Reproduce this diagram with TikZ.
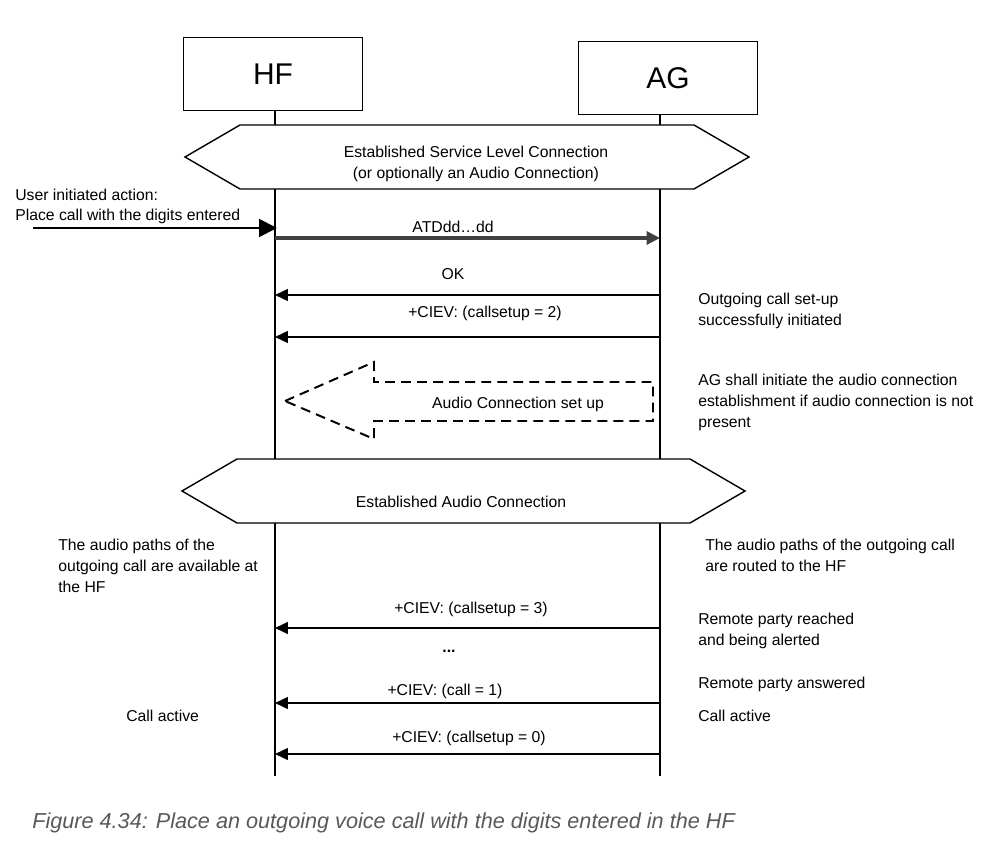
\documentclass[tikz,border=0pt]{standalone}
\usepackage{fontspec}
\setmainfont{Liberation Sans}
\usepackage{xcolor}
\usetikzlibrary{arrows.meta,positioning}

\definecolor{atdgray}{HTML}{404040}
\definecolor{capgray}{HTML}{595959}

\newcommand{\lblfont}{\fontsize{11.2}{14.9}\selectfont}

\tikzset{
    entity/.style={draw, line width=0.7pt, minimum width=4.45cm, minimum height=1.8cm,
        font=\fontsize{21.3}{25}\selectfont},
    lifeline/.style={line width=1.4pt},
    hexa/.style={draw, fill=white, line width=1pt, line join=miter},
    msg/.style={line width=1.4pt, -{Triangle[length=9.2pt, width=8.4pt]}},
    msglabel/.style={font=\lblfont, inner sep=0pt, anchor=base},
    note/.style={font=\lblfont, inner sep=0pt, anchor=base west, align=left},
    dashbox/.style={line width=1.4pt, dash pattern=on 7pt off 4.4pt, line join=miter}
}

\begin{document}
\begin{tikzpicture}[x=0.025cm, y=-0.025cm]
    \useasboundingbox (0,0) rectangle (991,852);

    % Entities and lifelines
    \node[entity] (hf) at (273,74) {HF};
    \node[entity] (ag) at (668,78) {AG};

    \coordinate (hf-top) at (275,110);
    \coordinate (hf-bot) at (275,776);
    \coordinate (ag-top) at (660,114);
    \coordinate (ag-bot) at (660,776);
    \draw[lifeline] (hf-top) -- (hf-bot);
    \draw[lifeline] (ag-top) -- (ag-bot);

    % ============================================================
    % Service level connection
    % ============================================================
    \draw[hexa] (185,157) -- (240,125) -- (694,125) -- (749,157) -- (694,189) -- (240,189) -- cycle;
    \node[msglabel] (slc1) at (476,158) {Established Service Level Connection};
    \node[msglabel] (slc2) at (476,179) {(or optionally an Audio Connection)};

    % User action (base = last line)
    \node[note] (user) at (15,221) {User initiated action:\\Place call with the digits entered};
    \coordinate (user-start) at (33,228);
    \coordinate (user-end) at (277,228);
    \draw[line width=1.4pt, -{Triangle[length=12.8pt, width=12.8pt]}] (user-start) -- (user-end);

    % ATD command
    \coordinate (atd-hf) at (275,238);
    \coordinate (atd-ag) at (660,238);
    \draw[atdgray, line width=2.3pt, -{Triangle[length=9.6pt, width=9.3pt]}] (atd-hf) -- (atd-ag);
    \node[msglabel] (atd) at (453,233) {ATDdd…dd};

    % Responses from AG
    \foreach \name/\y/\lx/\ly/\lab in {ok/295/453/280/OK,
            cs2/337/485/318/{+CIEV: (callsetup = 2)}} {
        \coordinate (\name-ag) at (660,\y);
        \coordinate (\name-hf) at (275,\y);
        \draw[msg] (\name-ag) -- (\name-hf);
        \node[msglabel] (\name-lab) at (\lx,\ly) {\lab};
    }

    \node[note] (setup) at (698,325) {Outgoing call set-up\\successfully initiated};

    % ============================================================
    % Audio connection set up
    % ============================================================
    \draw[dashbox] (285,401) -- (374,362) -- (374,382) -- (653,382) -- (653,421)
        -- (374,421) -- (374,439) -- cycle;
    \node[msglabel] (audio) at (518,408) {Audio Connection set up};
    \node[note] (agnote) at (698,427) {AG shall initiate the audio connection\\establishment if audio connection is not\\present};

    \draw[hexa] (182,491) -- (237,459) -- (690,459) -- (745,491) -- (690,523) -- (237,523) -- cycle;
    \node[msglabel] (eac) at (461,507) {Established Audio Connection};

    \node[note] (hfpath) at (58,592) {The audio paths of the\\outgoing call are available at\\the HF};
    \node[note] (agpath) at (705,571) {The audio paths of the outgoing call\\are routed to the HF};

    % ============================================================
    % Call progress
    % ============================================================
    \foreach \name/\y/\lx/\ly/\lab in {cs3/628/471/613/{+CIEV: (callsetup = 3)},
            call1/703/445/695/{+CIEV: (call = 1)},
            cs0/754/469/742/{+CIEV: (callsetup = 0)}} {
        \coordinate (\name-ag) at (660,\y);
        \coordinate (\name-hf) at (275,\y);
        \draw[msg] (\name-ag) -- (\name-hf);
        \node[msglabel] (\name-lab) at (\lx,\ly) {\lab};
    }
    \node[msglabel, font=\lblfont\bfseries] (dots) at (449,652) {...};

    \node[note] (reached) at (698,645) {Remote party reached\\and being alerted};
    \node[note] (answered) at (698,688) {Remote party answered};
    \node[note] (hfactive) at (126,721) {Call active};
    \node[note] (agactive) at (698,721) {Call active};

    % Caption
    \node[anchor=base west, inner sep=0pt, text=capgray, font=\fontsize{15.4}{18}\selectfont\itshape]
        (caption) at (32,828) {Figure 4.34: Place an outgoing voice call with the digits entered in the HF};
\end{tikzpicture}
\end{document}
